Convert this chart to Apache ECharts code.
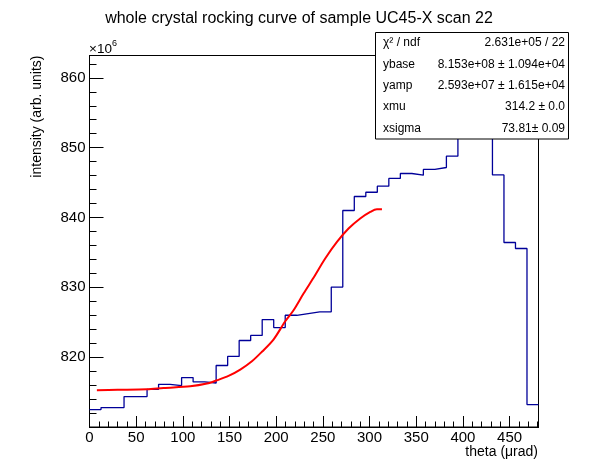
<!DOCTYPE html>
<html>
<head>
<meta charset="utf-8">
<script src="https://cdn.jsdelivr.net/npm/echarts@6/dist/echarts.min.js"></script>
<style>
html,body{margin:0;padding:0;background:#ffffff;}
#chart{width:598px;height:474px;}
</style>
</head>
<body>
<div id="chart"></div>
<script>
// ---- data (values in units of 1e6) ----
const thetaRange = [0, 481];          // histogram x range (µrad)
const intensityRange = [810, 863.2];  // y range shown
const histValues = [
  812.49, 812.78, 812.78, 814.36, 814.36, 815.40, 816.11, 815.93, 817.08, 816.45,
  816.30, 818.81, 820.10, 822.39, 823.11, 825.39, 824.24, 826.00, 826.25, 826.50,
  826.50, 830.04, 841.00, 843.01, 843.62, 844.48, 845.59, 846.30, 846.06, 846.88,
  847.16, 848.78, 856.50, 860.80, 855.00, 846.10, 836.42, 835.56, 813.21
];
const fitX = [7.9, 30, 61.5, 79.3, 107.9, 125.8, 136.5, 148.9, 161.5, 174.0, 184.7, 197.1,
  209.7, 218.6, 229.3, 240.0, 252.5, 265.1, 277.5, 290.0, 300.8, 307.9, 313.3];
const fitY = [815.26, 815.32, 815.40, 815.59, 815.83, 816.22, 816.69, 817.31, 818.22, 819.41, 820.77, 822.52,
  825.14, 826.72, 829.11, 831.37, 834.13, 836.50, 838.42, 839.86, 840.80, 841.19, 841.19];
const titleText = 'whole crystal rocking curve of sample UC45-X scan 22';
const xTitle = 'theta (\u03bcrad)';
const yTitle = 'intensity (arb. units)';
const statNames = ['\u03c7\u00b2 / ndf', 'ybase', 'yamp', 'xmu', 'xsigma'];
const statValues = ['2.631e+05 / 22', '8.153e+08 \u00b1 1.094e+04', '2.593e+07 \u00b1 1.615e+04', '314.2 \u00b1 0.0', '73.81\u00b1 0.09'];

// ---- build step outline from bins ----
const binW = (thetaRange[1] - thetaRange[0]) / histValues.length;
const histPts = [];
histValues.forEach((v, i) => {
  histPts.push([thetaRange[0] + i * binW, v]);
  histPts.push([thetaRange[0] + (i + 1) * binW, v]);
});
const fitPts = fitX.map((x, i) => [x, fitY[i]]);

const FONT = 'Liberation Sans, Arial, Helvetica, sans-serif';
const black = '#000000';

const chart = echarts.init(document.getElementById('chart'), null, {renderer: 'canvas'});

const grid = {left: 89.5, right: 59.5, top: 55.5, bottom: 47, show: true,
  borderColor: black, borderWidth: 1, backgroundColor: 'transparent', containLabel: false, outerBoundsMode: 'none'};

function xAx(interval, tickLen, labels) {
  return {type: 'value', min: thetaRange[0], max: thetaRange[1], interval: interval, position: 'bottom', offset: 0,
    axisLine: {show: true, onZero: false, lineStyle: {color: black, width: 1}},
    axisTick: {show: true, inside: true, length: tickLen, lineStyle: {color: black, width: 1}},
    axisLabel: {show: labels, color: black, fontSize: 15, fontFamily: FONT, margin: 3.5, showMaxLabel: false},
    splitLine: {show: false}, minorTick: {show: false}, minorSplitLine: {show: false}};
}
function yAx(interval, tickLen, labels) {
  return {type: 'value', min: intensityRange[0], max: intensityRange[1], interval: interval, position: 'left', offset: 0,
    axisLine: {show: true, onZero: false, lineStyle: {color: black, width: 1}},
    axisTick: {show: true, inside: true, length: tickLen, lineStyle: {color: black, width: 1}},
    axisLabel: {show: labels, color: black, fontSize: 15, fontFamily: FONT, margin: 4, showMinLabel: false, showMaxLabel: false},
    splitLine: {show: false}, minorTick: {show: false}, minorSplitLine: {show: false}};
}

const graphics = [
  {type: 'text', x: 37.5, y: 55.5, rotation: Math.PI / 2, z: 50,
    style: {text: yTitle, textAlign: 'right', textVerticalAlign: 'middle', font: '14px ' + FONT, fill: black}},
  {type: 'text', x: 538, y: 452.5, z: 50,
    style: {text: xTitle, textAlign: 'right', textVerticalAlign: 'middle', font: '14px ' + FONT, fill: black}},
  {type: 'text', x: 89, y: 49, z: 50,
    style: {text: '\u00d710', textAlign: 'left', textVerticalAlign: 'middle', font: '13.5px ' + FONT, fill: black}},
  {type: 'text', x: 112, y: 43.5, z: 50,
    style: {text: '6', textAlign: 'left', textVerticalAlign: 'middle', font: '9px ' + FONT, fill: black}},
  {type: 'rect', z: 100, shape: {x: 375.5, y: 32.5, width: 193, height: 106.5},
    style: {fill: '#ffffff', stroke: black, lineWidth: 1}}
];
statNames.forEach((n, i) => {
  const cy = 43 + i * 21.3;
  graphics.push({type: 'text', x: 383, y: cy, z: 101,
    style: {text: n, textAlign: 'left', textVerticalAlign: 'middle', font: '12px ' + FONT, fill: black}});
  graphics.push({type: 'text', x: 565, y: cy, z: 101,
    style: {text: statValues[i], textAlign: 'right', textVerticalAlign: 'middle', font: '12px ' + FONT, fill: black}});
});

chart.setOption({
  animation: false,
  backgroundColor: '#ffffff',
  title: {text: titleText, left: 'center', top: 6,
    textStyle: {fontSize: 16, fontWeight: 'normal', color: black, fontFamily: FONT}},
  grid: grid,
  xAxis: [xAx(10, 5.5, false), xAx(50, 11, true)],
  yAxis: [yAx(2, 7, false), yAx(10, 14, true)],
  series: [
    {type: 'line', name: 'hist', xAxisIndex: 0, yAxisIndex: 0, data: histPts, showSymbol: false, symbol: 'none',
      lineStyle: {color: '#000099', width: 1.3}, z: 2, clip: true},
    {type: 'line', name: 'fit', xAxisIndex: 0, yAxisIndex: 0, data: fitPts, showSymbol: false, symbol: 'none', smooth: 0.3,
      lineStyle: {color: '#ff0000', width: 2}, z: 3}
  ],
  graphic: graphics
});
</script>
</body>
</html>
